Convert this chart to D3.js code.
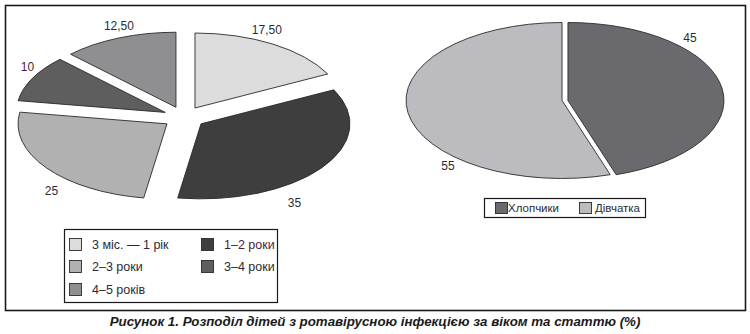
<!DOCTYPE html>
<html><head><meta charset="utf-8">
<script src="https://cdn.jsdelivr.net/npm/d3@7"></script>
<style>
html,body{margin:0;padding:0;background:#fff;}
svg{display:block;}
</style></head>
<body>
<svg id="c" width="750" height="334"></svg>
<script>
// ---- data ----
const ageCategories = ["3 міс. — 1 рік", "1–2 роки", "2–3 роки", "3–4 роки", "4–5 років"];
const ageValues = [17.5, 35, 25, 10, 12.5];
const ageLabels = ["17,50", "35", "25", "10", "12,50"];
const sexCategories = ["Хлопчики", "Дівчатка"];
const sexValues = [45, 55];
const sexLabels = ["45", "55"];
const caption = "Рисунок 1. Розподіл дітей з ротавірусною інфекцією за віком та статтю (%)";

// ---- styles ----
const ageColors = ["#dcdcdc", "#3e3e3e", "#b1b1b1", "#5e5e5e", "#8f8f91"];
const sexColors = ["#6a6a6e", "#bcbcc0"];
const ageTextColors = ["#2b2b33", "#4a1d3a", "#2b2b33", "#2b2b33", "#2b2b33"];
const labelColors = ["#2b2b33", "#2b2b33", "#2b2b33", "#4a1d3a", "#2b2b33"];

const svg = d3.select("#c");
const FONT = "'Liberation Sans', Arial, sans-serif";

// outer frame
svg.append("rect").attr("x", 5.5).attr("y", 5.5).attr("width", 740).attr("height", 305)
  .attr("fill", "none").attr("stroke", "#1a1a1a").attr("stroke-width", 1.6);

function ellipsePie(g, values, colors, o) {
  const pie = d3.pie().sort(null).value(d => d).startAngle(0).endAngle(2 * Math.PI);
  const arcs = pie(values);
  const pt = (ang, ox, oy) => [o.cx + ox + o.rx * Math.sin(ang), o.cy + oy - o.ry * Math.cos(ang)];
  arcs.forEach((d, i) => {
    const m = (d.startAngle + d.endAngle) / 2;
    const ox = o.ex * Math.sin(m), oy = -o.ey * Math.cos(m);
    const p0 = pt(d.startAngle, ox, oy), p1 = pt(d.endAngle, ox, oy);
    const large = (d.endAngle - d.startAngle) > Math.PI ? 1 : 0;
    const path = d3.path();
    path.moveTo(o.cx + ox, o.cy + oy);
    path.lineTo(p0[0], p0[1]);
    const dstr = path.toString() + ` A${o.rx},${o.ry} 0 ${large} 1 ${p1[0]},${p1[1]} Z`;
    g.append("path").attr("d", dstr).attr("fill", colors[i])
      .attr("stroke", "#2a2a2a").attr("stroke-width", 0.9).attr("stroke-linejoin", "miter");
    d.mid = pt(m, ox, oy);
  });
  return arcs;
}

// ---- left pie (age) ----
const gL = svg.append("g");
const arcsL = ellipsePie(gL, ageValues, ageColors, {cx: 184, cy: 117.4, rx: 149, ry: 75, ex: 21, ey: 11});
const nudgeL = [[-6, -14], [-27, 35], [5, 23], [-5, -11], [0, -12]];
arcsL.forEach((d, i) => {
  gL.append("text").attr("x", d.mid[0] + nudgeL[i][0]).attr("y", d.mid[1] + nudgeL[i][1])
    .attr("text-anchor", "middle").attr("dominant-baseline", "central")
    .attr("font-family", FONT).attr("font-size", 12).attr("fill", labelColors[i])
    .text(ageLabels[i]);
});

// ---- right pie (sex) ----
const gR = svg.append("g");
const arcsR = ellipsePie(gR, sexValues, sexColors, {cx: 565, cy: 100.5, rx: 156, ry: 78, ex: 3, ey: 0});
const nudgeR = [[-32, -50], [40, 53]];
arcsR.forEach((d, i) => {
  gR.append("text").attr("x", d.mid[0] + nudgeR[i][0]).attr("y", d.mid[1] + nudgeR[i][1])
    .attr("text-anchor", "middle").attr("dominant-baseline", "central")
    .attr("font-family", FONT).attr("font-size", 12).attr("fill", "#2b2b33")
    .text(sexLabels[i]);
});

// ---- legend left ----
const LFONT = "'Liberation Sans Narrow', 'Liberation Sans', Arial, sans-serif";
const lg = svg.append("g");
lg.append("rect").attr("x", 64.5).attr("y", 229.5).attr("width", 213).attr("height", 73)
  .attr("fill", "#fff").attr("stroke", "#1a1a1a").attr("stroke-width", 1.2);
const legPos = [[69, 245], [201, 245], [69, 267], [201, 267], [69, 290]];
ageCategories.forEach((c, i) => {
  const [x, y] = legPos[i];
  lg.append("rect").attr("x", x + 0.5).attr("y", y - 6.5).attr("width", 12).attr("height", 12)
    .attr("fill", ageColors[i]).attr("stroke", "#2a2a2a").attr("stroke-width", 0.9);
  lg.append("text").attr("x", x + 23).attr("y", y).attr("dominant-baseline", "central")
    .attr("font-family", LFONT).attr("font-size", 12.5).attr("fill", ageTextColors[i]).text(c);
});

// ---- legend right ----
const rg = svg.append("g");
rg.append("rect").attr("x", 484.5).attr("y", 198.5).attr("width", 161).attr("height", 19)
  .attr("fill", "#fff").attr("stroke", "#1a1a1a").attr("stroke-width", 1.2);
const rPos = [[495, 208, 13], [579, 208, 16]];
sexCategories.forEach((c, i) => {
  const [x, y, tx] = rPos[i];
  rg.append("rect").attr("x", x + 0.5).attr("y", y - 5.5).attr("width", 12).attr("height", 11)
    .attr("fill", sexColors[i]).attr("stroke", "#2a2a2a").attr("stroke-width", 0.9);
  rg.append("text").attr("x", x + tx).attr("y", y).attr("dominant-baseline", "central")
    .attr("font-family", LFONT).attr("font-size", 11.5).attr("fill", "#2b2b33").text(c);
});

// ---- caption ----
svg.append("text").attr("x", 375).attr("y", 321).attr("text-anchor", "middle")
  .attr("dominant-baseline", "central")
  .attr("font-family", FONT).attr("font-size", 13.3).attr("font-weight", "bold").attr("font-style", "italic")
  .attr("fill", "#1a1a1a").text(caption);
</script>
</body></html>
